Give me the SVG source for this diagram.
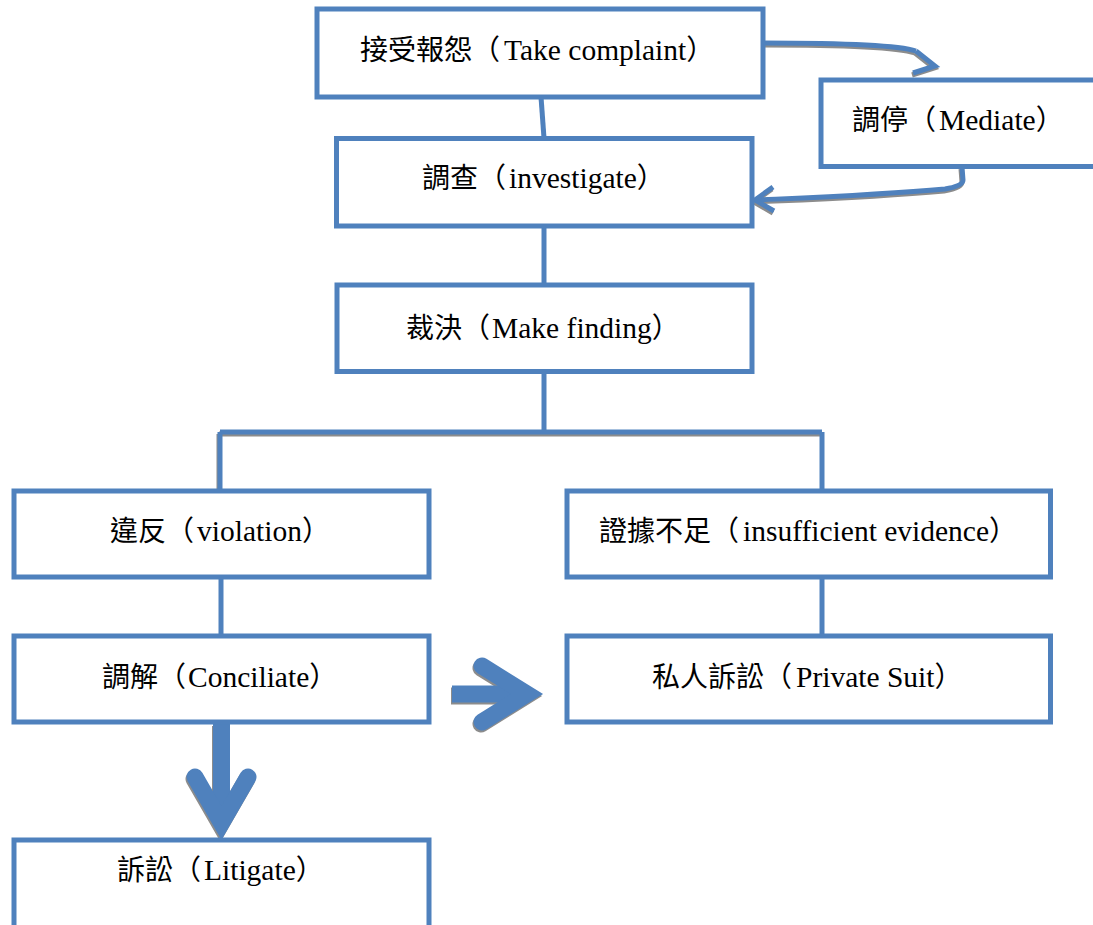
<svg xmlns="http://www.w3.org/2000/svg" width="1093" height="925" viewBox="0 0 1093 925">
<style>
.box{fill:#fff;stroke:#4F81BD;stroke-width:5}
.lbl{font-family:"Liberation Serif","Noto Sans CJK TC",serif;font-size:28px;fill:#000}
.lat{font-size:29.5px}
.con{fill:none;stroke:#4F81BD;stroke-width:5}
.sh{fill:none;stroke:#8c8c8c;stroke-width:5}
.big{fill:none;stroke:#4F81BD;stroke-width:17;stroke-linejoin:miter;stroke-miterlimit:10}
.bigsh{fill:none;stroke:#8c8c8c;stroke-width:17;stroke-linejoin:miter;stroke-miterlimit:10}
.rc{stroke-linecap:round}
</style>
<rect width="1093" height="925" fill="#fff"/>
<g id="connectors">
  <g id="shadows" transform="translate(-1,2)">
    <path class="sh" d="M220,432 L822,432 M220,432 L220,491"/>
    <path class="sh" d="M763,43 C830,43 895,44 916,51"/>
    <polyline class="sh" points="916,51 935,66 913,73"/>
    <path class="sh" d="M962,167 L963,180 Q963,186 945,189 C880,195 800,198 756,200"/>
    <polyline class="sh" points="773,187 755,200 774,211"/>
    <line class="bigsh" x1="221.5" y1="724" x2="221.5" y2="823"/>
    <polyline class="bigsh rc" points="195,777 221.5,823 248,777"/>
    <line class="bigsh" x1="452" y1="694" x2="527" y2="694"/>
    <polyline class="bigsh rc" points="482,666 527,694 482,722"/>
  </g>
  <path class="con" d="M541,97 L544,138"/>
  <path class="con" d="M544,226 L544,285"/>
  <path class="con" d="M544,371 L544,432 M220,432 L822,432 M220,432 L220,491 M822,432 L822,491"/>
  <path class="con" d="M221,577 L221,636"/>
  <path class="con" d="M822,577 L822,636"/>
  <path class="con" d="M763,43 C830,43 895,44 916,51"/>
  <polyline class="con" points="916,51 935,66 913,73"/>
  <path class="con" d="M962,167 L963,180 Q963,186 945,189 C880,195 800,198 756,200"/>
  <polyline class="con" points="773,187 755,200 774,211"/>
  <line class="big" x1="221.5" y1="724" x2="221.5" y2="823"/>
  <polyline class="big rc" points="195,777 221.5,823 248,777"/>
  <line class="big" x1="452" y1="694" x2="527" y2="694"/>
  <polyline class="big rc" points="482,666 527,694 482,722"/>
</g>
<g id="take-complaint">
  <rect class="box" x="317" y="9" width="446" height="88"/>
  <text class="lbl" x="360" y="60">接受報怨（<tspan class="lat" dx="4">Take complaint</tspan>）</text>
</g>
<g id="mediate">
  <rect class="box" x="821" y="80" width="280" height="86.5"/>
  <text class="lbl" x="852" y="130">調停（<tspan class="lat" dx="3">Mediate</tspan>）</text>
</g>
<g id="investigate">
  <rect class="box" x="336.5" y="138.5" width="415.5" height="87.5"/>
  <text class="lbl" x="422" y="188">調查（<tspan class="lat" dx="3">investigate</tspan>）</text>
</g>
<g id="make-finding">
  <rect class="box" x="337" y="285" width="415" height="86.5"/>
  <text class="lbl" x="406" y="338">裁決（<tspan class="lat" dx="2">Make finding</tspan>）</text>
</g>
<g id="violation">
  <rect class="box" x="14" y="491" width="415" height="86"/>
  <text class="lbl" x="110" y="541">違反（<tspan class="lat" dx="3">violation</tspan>）</text>
</g>
<g id="insufficient-evidence">
  <rect class="box" x="567" y="491" width="483.5" height="86"/>
  <text class="lbl" x="599" y="541">證據不足（<tspan class="lat" dx="4">insufficient evidence</tspan>）</text>
</g>
<g id="conciliate">
  <rect class="box" x="14" y="636" width="415" height="86"/>
  <text class="lbl" x="102" y="687">調解（<tspan class="lat" dx="2">Conciliate</tspan>）</text>
</g>
<g id="private-suit">
  <rect class="box" x="567" y="636" width="483.5" height="86"/>
  <text class="lbl" x="652" y="687">私人訴訟（<tspan class="lat" dx="4">Private Suit</tspan>）</text>
</g>
<g id="litigate">
  <rect class="box" x="14" y="840" width="415" height="88"/>
  <text class="lbl" x="117" y="880">訴訟（<tspan class="lat" dx="3">Litigate</tspan>）</text>
</g>
</svg>
